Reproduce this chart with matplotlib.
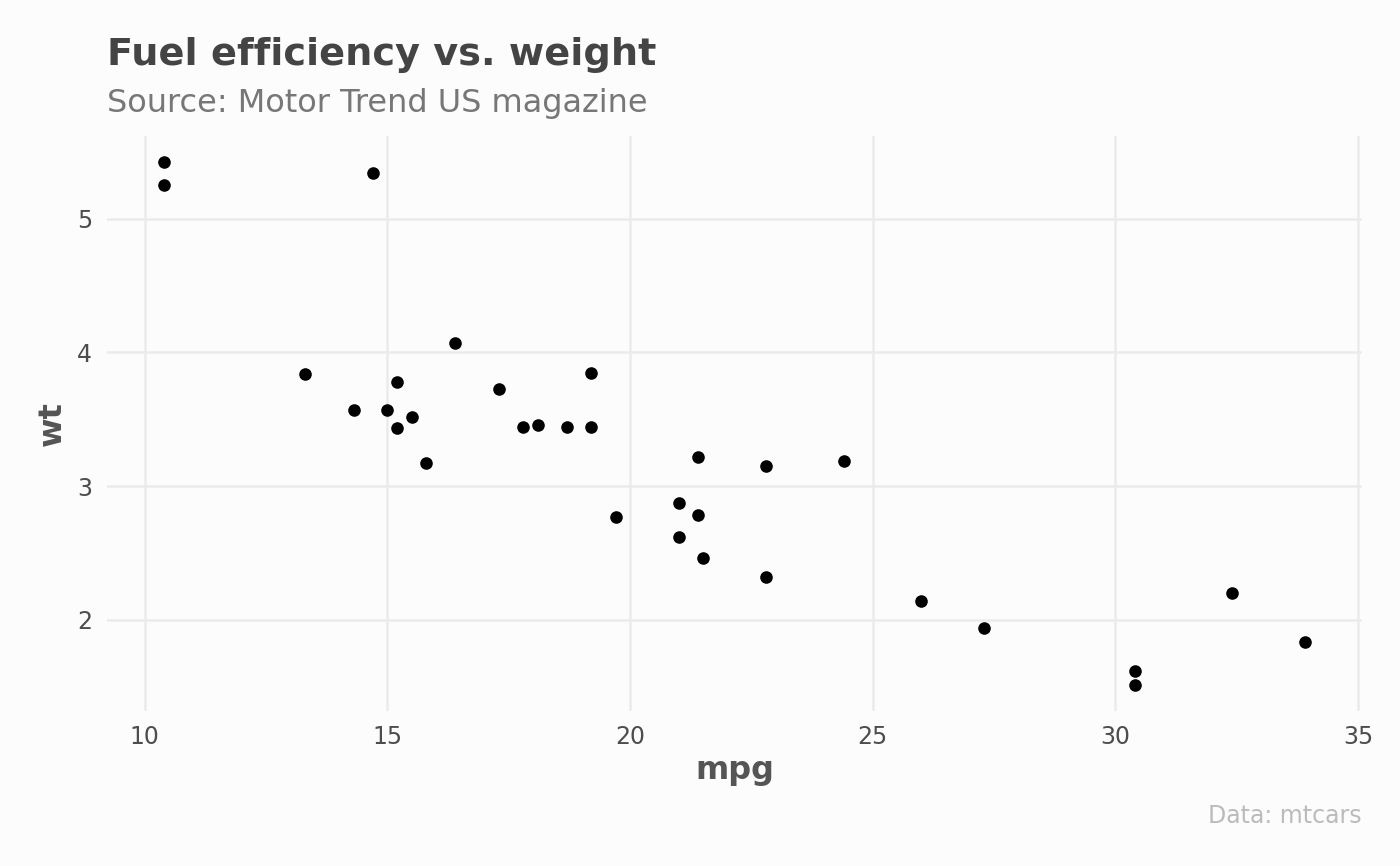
import matplotlib
matplotlib.use("Agg")
import matplotlib.pyplot as plt

# mtcars: mpg vs wt
mpg = [21.0, 21.0, 22.8, 21.4, 18.7, 18.1, 14.3, 24.4, 22.8, 19.2, 17.8, 16.4,
       17.3, 15.2, 10.4, 10.4, 14.7, 32.4, 30.4, 33.9, 21.5, 15.5, 15.2, 13.3,
       19.2, 27.3, 26.0, 30.4, 15.8, 19.7, 15.0, 21.4]
wt = [2.620, 2.875, 2.320, 3.215, 3.440, 3.460, 3.570, 3.190, 3.150, 3.440,
      3.440, 4.070, 3.730, 3.780, 5.250, 5.424, 5.345, 2.200, 1.615, 1.835,
      2.465, 3.520, 3.435, 3.840, 3.845, 1.935, 2.140, 1.513, 3.170, 2.770,
      3.570, 2.780]
x_ticks = [10, 15, 20, 25, 30, 35]
y_ticks = [2, 3, 4, 5]

bg = "#FCFCFC"
fig = plt.figure(figsize=(14, 8.66), dpi=100, facecolor=bg)
ax = fig.add_axes([0.0766, 0.179, 0.896, 0.664], facecolor=bg)

ax.scatter(mpg, wt, s=82, color="black", zorder=3, linewidths=0)

ax.set_xlim(9.225, 35.075)
ax.set_ylim(1.317, 5.620)
ax.set_xticks(x_ticks)
ax.set_yticks(y_ticks)
ax.grid(True, color="#EBEBEB", linewidth=1.8, zorder=0)
for s in ax.spines.values():
    s.set_visible(False)
ax.tick_params(axis="x", length=0, labelsize=17, labelcolor="#4D4D4D", pad=10)
ax.tick_params(axis="y", length=0, labelsize=17, labelcolor="#4D4D4D", pad=11)

ax.set_xlabel("mpg", fontsize=23, fontweight="bold", color="#555555", va="center")
ax.xaxis.set_label_coords(0.5, -0.104)
ax.set_ylabel("wt", fontsize=23, fontweight="bold", color="#555555", va="center")
ax.yaxis.set_label_coords(-0.044, 0.5)

fig.text(0.0766, 0.936, "Fuel efficiency vs. weight", fontsize=27.5, fontweight="bold",
         color="#444444", ha="left", va="center")
fig.text(0.0766, 0.881, "Source: Motor Trend US magazine", fontsize=23,
         color="#777777", ha="left", va="center")
fig.text(0.9726, 0.058, "Data: mtcars", fontsize=17, color="#BBBBBB",
         ha="right", va="center")

fig.savefig("out.png", dpi=100, facecolor=bg)
